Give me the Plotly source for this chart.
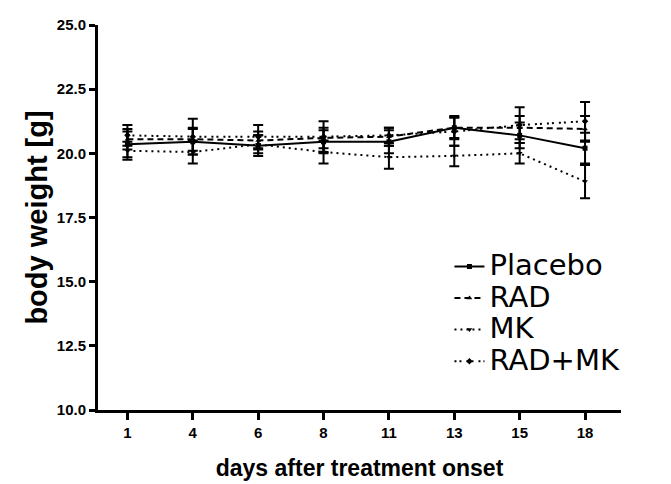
import plotly.graph_objects as go

days = ["1", "4", "6", "8", "11", "13", "15", "18"]

placebo = [20.35, 20.45, 20.3, 20.45, 20.45, 21.0, 20.7, 20.2]
placebo_err = [0.5, 0.5, 0.4, 0.45, 0.45, 0.45, 0.5, 0.6]
rad = [20.55, 20.55, 20.5, 20.6, 20.65, 21.0, 21.0, 20.95]
rad_err = [0.4, 0.45, 0.35, 0.4, 0.35, 0.4, 0.45, 0.5]
mk = [20.1, 20.05, 20.35, 20.05, 19.85, 19.9, 20.0, 18.9]
mk_err = [0.35, 0.45, 0.35, 0.45, 0.45, 0.4, 0.4, 0.65]
radmk = [20.7, 20.65, 20.65, 20.65, 20.7, 20.85, 21.1, 21.25]
radmk_err = [0.4, 0.7, 0.45, 0.6, 0.3, 0.55, 0.7, 0.75]

series = [
    ("Placebo", placebo, placebo_err, "solid", "square"),
    ("RAD", rad, rad_err, "6px,4px", "triangle-up"),
    ("MK", mk, mk_err, "2px,4px", "triangle-down"),
    ("RAD+MK", radmk, radmk_err, "2px,3px,2px,5px", "diamond"),
]

FONT = "Liberation Sans, Arial, sans-serif"
WIDE = "DejaVu Sans, Liberation Sans, sans-serif"

fig = go.Figure()
for name, vals, errs, dash, sym in series:
    fig.add_trace(go.Scatter(
        x=days, y=vals, mode="lines+markers",
        name="<span style='font-size:29px'>" + name + "</span>",
        line=dict(color="black", width=2, dash=dash),
        marker=dict(color="black", size=5, symbol=sym),
        error_y=dict(type="data", array=errs, visible=True,
                     color="black", thickness=2, width=5),
    ))

fig.update_layout(
    width=671, height=484,
    paper_bgcolor="white", plot_bgcolor="white",
    margin=dict(l=90, r=58, t=8, b=82),
    font=dict(family=FONT, color="black"),
    showlegend=True,
    legend=dict(x=0.672, y=0.427, xanchor="left", yanchor="top",
                font=dict(size=22, family=WIDE),
                bgcolor="rgba(0,0,0,0)", itemwidth=30, tracegroupgap=0),
)
fig.update_xaxes(
    type="category", range=[-0.45, 7.55],
    showline=True, linecolor="black", linewidth=3,
    ticks="outside", ticklen=7, tickwidth=3, tickcolor="black",
    showgrid=False, zeroline=False,
    tickfont=dict(size=15, family=FONT, weight="bold"),
    title=dict(text="<b>days after treatment onset</b>", font=dict(size=23), standoff=20),
)
fig.update_yaxes(
    range=[10, 25], tickvals=[10, 12.5, 15, 17.5, 20, 22.5, 25],
    ticktext=["10.0", "12.5", "15.0", "17.5", "20.0", "22.5", "25.0"],
    ticklabeloverflow="allow",
    showline=True, linecolor="black", linewidth=3,
    ticks="outside", ticklen=6, tickwidth=3, tickcolor="black",
    showgrid=False, zeroline=False,
    tickfont=dict(size=15, family=FONT, weight="bold"),
    title=dict(text="<b>body weight [g]</b>", font=dict(size=29), standoff=1),
)

fig.write_html("out.html")
